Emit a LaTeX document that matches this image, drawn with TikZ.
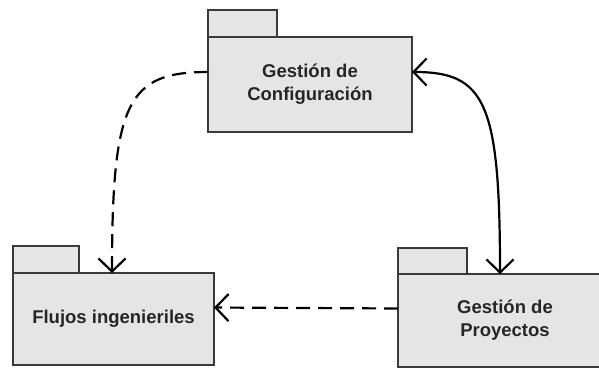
\documentclass[tikz,border=0pt]{standalone}
\usepackage{fontspec}
\setmainfont{Liberation Sans}
\usetikzlibrary{arrows.meta}
\definecolor{pkgfill}{RGB}{229,229,229}
\definecolor{pkgline}{RGB}{58,58,58}
\begin{document}
\begin{tikzpicture}[x=1pt,y=-1pt,
  pkgbody/.style={draw=pkgline, fill=pkgfill, line width=1.8pt, anchor=north west,
    inner sep=0pt, outer sep=0pt, align=center,
    font=\bfseries\fontsize{18.5}{23}\selectfont, text=black!85},
  pkgtab/.style={draw=pkgline, fill=pkgfill, line width=1.8pt},
  link/.style={line width=2.2pt, black, >={Straight Barb[length=13pt,width=27pt]}},
  dep/.style={link, dash pattern=on 14pt off 8pt}
]
\useasboundingbox (0,0) rectangle (599,368);

% Gestión de Configuración
\draw[pkgtab] (208,10) rectangle (277,37);
\node[pkgbody, minimum width=204pt, minimum height=95pt] (conf) at (208,37)
  {Gestión de\\Configuración};

% Flujos ingenieriles
\draw[pkgtab] (13,246) rectangle (79,273);
\node[pkgbody, minimum width=201pt, minimum height=92pt] (flujos) at (13,273)
  {Flujos ingenieriles};

% Gestión de Proyectos (runs past the right edge)
\draw[pkgtab] (398,248) rectangle (467,274);
\node[pkgbody, minimum width=214pt, minimum height=93pt] (proy) at (398,274)
  {Gestión de\\Proyectos};

% dependencies
\draw[dep,->] ([yshift=12.5pt]conf.west)
  .. controls +(-80,0) and +(0,-172) .. ([xshift=-1.5pt]flujos.north);
\draw[link,<->] ([yshift=12.5pt]conf.east)
  .. controls +(73,0) and +(0,-172) .. ([xshift=-5pt]proy.north);
\draw[dep,->] ([yshift=12pt]proy.west) -- ([yshift=11.5pt]flujos.east);
\end{tikzpicture}
\end{document}
